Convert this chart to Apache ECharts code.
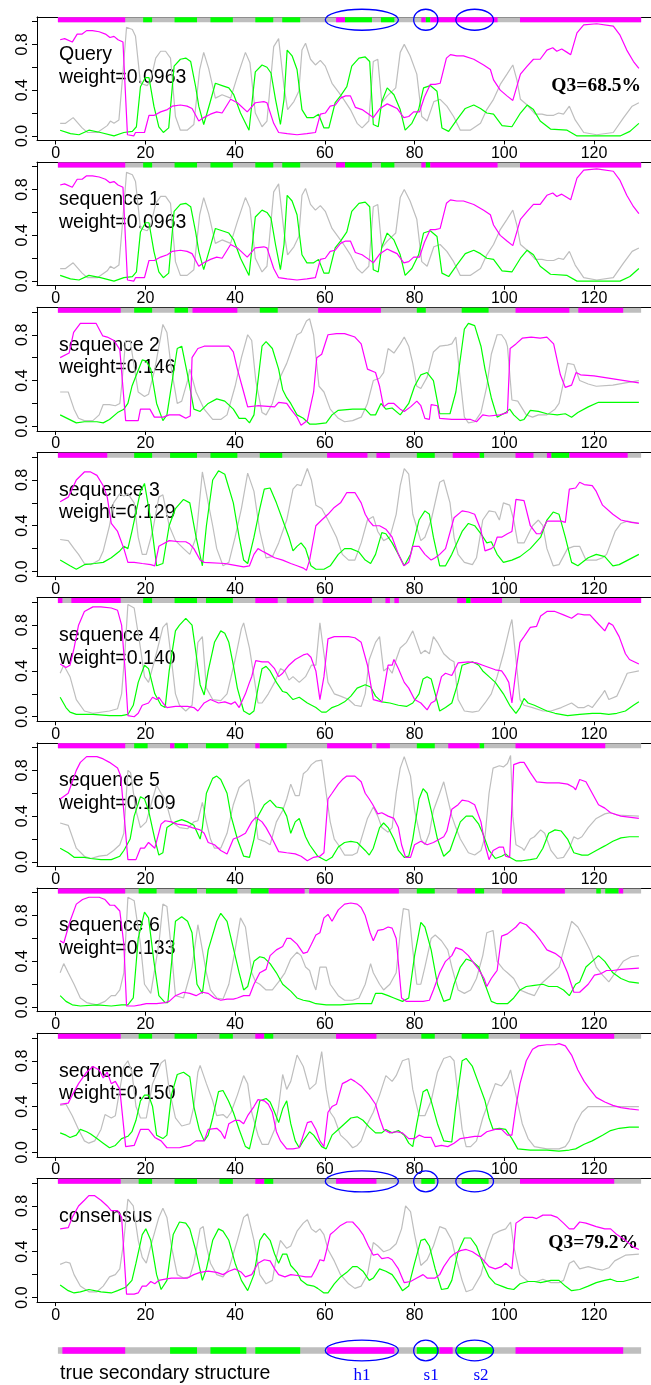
<!DOCTYPE html>
<html>
<head>
<meta charset="utf-8">
<script src="https://cdn.jsdelivr.net/npm/echarts@6.0.0/dist/echarts.min.js"></script>
<style>
html,body{margin:0;padding:0;background:#fff}
#chart{width:651px;height:1385px}
</style>
</head>
<body>
<div id="chart"></div>
<script>
// axis ticks
var xTicks = [0, 20, 40, 60, 80, 100, 120];
var yTicks = [0, 0.2, 0.4, 0.6, 0.8, 1.0];
var yLabels = [0, 0.4, 0.8];

// secondary structure segments: [type, first residue, last residue], coil elsewhere
var ssQuery = [['H',1,15],['E',20,21],['E',27,31],['E',35,39],['E',45,48],['E',51,54],['H',63,64],['E',65,70],['E',73,75],['H',82,82],['E',83,83],['H',84,98],['H',104,130]];
var ssSeq2 = [['H',1,14],['E',18,21],['E',27,29],['H',31,40],['E',46,49],['H',59,72],['E',81,82],['E',91,96],['H',103,114],['H',117,126]];
var ssSeq3 = [['H',1,11],['E',18,21],['E',26,31],['E',35,40],['E',46,50],['H',61,69],['H',72,74],['E',81,84],['H',89,94],['E',95,95],['H',103,106],['H',110,110],['E',111,114],['H',115,127]];
var ssSeq4 = [['H',1,1],['H',4,14],['E',20,21],['E',27,31],['E',34,39],['H',45,49],['H',52,57],['H',60,70],['H',74,74],['H',76,76],['H',90,91],['E',92,92],['H',93,99],['H',104,130]];
var ssSeq5 = [['H',1,15],['E',18,20],['H',26,26],['E',27,29],['E',34,38],['H',45,45],['E',46,51],['H',61,70],['H',72,74],['E',81,84],['H',88,94],['E',95,95],['H',103,122]];
var ssSeq6 = [['H',1,15],['E',19,22],['E',27,31],['E',34,40],['E',44,47],['H',48,55],['H',57,76],['E',81,84],['H',90,93],['E',94,95],['H',100,113],['E',121,121],['E',123,125],['H',126,126]];
var ssSeq7 = [['H',1,14],['E',19,21],['E',27,31],['E',37,39],['H',45,46],['E',47,48],['H',63,71],['E',82,84],['E',91,96],['H',104,124]];
var ssCons = [['H',1,14],['E',19,21],['E',27,31],['E',37,39],['H',45,46],['E',47,48],['H',63,71],['E',82,84],['E',91,96],['H',104,124]];
var ssTrue = [['H',2,15],['E',26,31],['E',35,42],['E',45,54],['H',61,75],['E',81,85],['H',86,88],['E',90,97],['H',103,126]];

// marked regions (residue span) and their names
var regions = [[60.1, 76.4], [79.8, 85.2], [89.2, 97.6]];
var regionNames = ['h1', 's1', 's2'];
var regionLabelX = [68.3, 83.7, 94.8];

// probabilities: helix (magenta), strand (green), coil (gray)
var helixQuery = [[1,0.84],[2,0.85],[3.7,0.82],[4.8,0.89],[5.9,0.89],[6.9,0.92],[8.2,0.92],[9.7,0.91],[11.1,0.89],[12.1,0.86],[13,0.87],[13.9,0.84],[15,0.82],[16,0.01],[17.4,0.0],[17.8,0.03],[19.8,0.03],[20.8,0.18],[22,0.18],[23.4,0.21],[24.9,0.23],[26,0.26],[27.8,0.27],[29.3,0.26],[30.4,0.24],[31.9,0.13],[33,0.16],[34.5,0.19],[35.9,0.21],[37.1,0.2],[39,0.32],[40.5,0.29],[42.7,0.21],[44.5,0.29],[46.4,0.3],[47.1,0.29],[48.6,0.11],[49.7,0.03],[51.6,0.02],[53.8,0.01],[56,0.02],[57.9,0.03],[59,0.19],[60.1,0.2],[61.2,0.26],[62.3,0.27],[63.5,0.33],[64.6,0.35],[65.7,0.35],[66.8,0.25],[68.3,0.23],[69.8,0.19],[70.8,0.16],[72.3,0.24],[73.9,0.28],[75,0.26],[76.1,0.24],[77.6,0.16],[78.7,0.17],[79.8,0.21],[81.1,0.21],[82.2,0.34],[83.5,0.45],[84.6,0.45],[85.7,0.46],[87.1,0.68],[88,0.71],[89.4,0.7],[90.9,0.7],[93.2,0.67],[95.4,0.62],[96.9,0.58],[97.6,0.49],[99.1,0.4],[100.6,0.35],[101.9,0.31],[103.6,0.54],[105.1,0.61],[106.5,0.67],[108,0.67],[109.5,0.75],[110.8,0.77],[111.7,0.74],[112.8,0.76],[114,0.73],[114.8,0.71],[116.2,0.9],[117.7,0.97],[120.6,0.98],[124.3,0.96],[125.8,0.88],[127.3,0.75],[128.8,0.65],[130,0.59]];
var strandQuery = [[1,0.05],[3.3,0.02],[5.2,0.01],[7.4,0.05],[10,0.03],[13,0.0],[15.2,0.03],[17.1,0.04],[18,0.08],[18.9,0.43],[20,0.51],[20.8,0.51],[21.9,0.26],[23,0.08],[24,0.03],[25.2,0.07],[26.4,0.61],[27.8,0.67],[29,0.68],[30.1,0.65],[31.2,0.43],[31.9,0.26],[33,0.1],[34.4,0.29],[35.6,0.46],[37.1,0.44],[38.6,0.42],[39.7,0.36],[41.2,0.2],[43.1,0.05],[44.5,0.56],[46,0.62],[47.1,0.6],[48,0.55],[49,0.32],[50.1,0.1],[50.9,0.32],[51.6,0.75],[52.7,0.7],[53.8,0.58],[54.9,0.23],[56,0.16],[57.5,0.16],[58.6,0.19],[59.8,0.07],[60.9,0.07],[62.3,0.29],[63.5,0.35],[64.9,0.43],[66,0.61],[67.6,0.68],[69,0.69],[70,0.65],[70.8,0.1],[71.9,0.08],[72.7,0.3],[73.9,0.42],[75.4,0.36],[76.8,0.23],[77.9,0.05],[79.4,0.11],[80.9,0.23],[82,0.42],[83.5,0.44],[85,0.39],[86.1,0.07],[87.6,0.04],[89.4,0.14],[91.3,0.24],[93.2,0.27],[94.7,0.24],[96.1,0.2],[97.6,0.19],[99.5,0.09],[101.7,0.08],[103.6,0.2],[105.1,0.27],[106.5,0.23],[108,0.13],[110.3,0.06],[114,0.05],[116.2,0.0],[122.1,0.0],[125.8,0.0],[128,0.04],[130,0.11]];
var coilQuery = [[1,0.11],[2.2,0.11],[3.9,0.16],[5.9,0.07],[7.1,0.03],[9.3,0.03],[11.5,0.09],[12.2,0.13],[13,0.11],[14.1,0.14],[14.8,0.46],[15.8,0.95],[17.1,0.93],[17.8,0.87],[18.9,0.46],[20.4,0.44],[21.2,0.49],[22.3,0.68],[23.4,0.74],[24.5,0.74],[25.6,0.68],[26.7,0.17],[27.8,0.05],[29.3,0.05],[30.8,0.1],[32.1,0.58],[33,0.73],[34.1,0.59],[35.6,0.33],[37.1,0.36],[39,0.33],[40.5,0.52],[42.3,0.73],[43.3,0.64],[44.5,0.2],[46,0.08],[47.1,0.13],[48.6,0.78],[49.7,0.85],[50.9,0.43],[51.7,0.23],[53.1,0.3],[54.2,0.39],[54.9,0.75],[55.7,0.81],[56.8,0.67],[57.9,0.62],[59,0.66],[60.1,0.61],[61.6,0.46],[63.1,0.38],[64.2,0.32],[65.7,0.23],[67.2,0.11],[68.3,0.07],[69.8,0.13],[70.8,0.65],[71.8,0.67],[72.7,0.29],[73.9,0.35],[75.8,0.42],[76.8,0.73],[77.7,0.8],[79,0.7],[80.5,0.54],[81.6,0.17],[82.8,0.13],[84.3,0.3],[85.7,0.32],[87.2,0.26],[88.7,0.17],[90.2,0.05],[92.4,0.05],[94.7,0.11],[96.1,0.23],[97.6,0.32],[99.1,0.45],[100.6,0.54],[101.9,0.62],[102.8,0.49],[103.6,0.32],[105.1,0.27],[106.9,0.19],[108.4,0.19],[109.5,0.18],[111,0.18],[112.1,0.2],[113.2,0.19],[114.5,0.26],[115.8,0.14],[117.7,0.03],[120.6,0.01],[124.3,0.03],[126.6,0.16],[128.5,0.26],[130,0.29]];

var helixSeq2 = [[1,0.6],[3,0.64],[4,0.82],[5.5,0.9],[9,0.9],[10.5,0.79],[11.5,0.78],[13,0.75],[14.3,0.67],[15.6,0.05],[18.4,0.05],[18.9,0.15],[21,0.15],[22,0.08],[24,0.08],[25.3,0.1],[27.6,0.1],[29,0.07],[30,0.09],[30.4,0.6],[31.7,0.68],[33.1,0.7],[38.6,0.7],[39.6,0.65],[40.5,0.5],[41.9,0.3],[42.8,0.17],[45,0.18],[48.8,0.17],[49.7,0.21],[51.5,0.2],[52.4,0.15],[53.8,0.08],[54.7,0.01],[56.1,0.05],[57.5,0.3],[58.2,0.6],[59.3,0.63],[60.7,0.8],[62.6,0.81],[64.4,0.81],[66.7,0.78],[68.1,0.72],[69.5,0.5],[71.3,0.47],[72.2,0.35],[73.1,0.17],[74.1,0.2],[75.4,0.2],[76.8,0.15],[77.7,0.13],[79.1,0.17],[80.5,0.22],[81.4,0.18],[82.3,0.07],[83.3,0.06],[83.7,0.19],[85.1,0.18],[85.6,0.07],[88.3,0.06],[92.5,0.06],[93.8,0.04],[95.2,0.1],[96.6,0.09],[99,0.1],[100.7,0.12],[101.3,0.68],[102.6,0.72],[104,0.77],[106,0.78],[108,0.77],[109.5,0.78],[111,0.72],[112.5,0.45],[113.6,0.34],[115,0.36],[116,0.47],[117,0.45],[120,0.44],[125,0.41],[130,0.38]];
var strandSeq2 = [[1,0.1],[4.6,0.03],[6.4,0.04],[9.2,0.04],[10.6,0.03],[12,0.06],[13.8,0.12],[15.2,0.15],[16.1,0.2],[17,0.35],[19.3,0.58],[20.2,0.57],[21.2,0.5],[22.5,0.2],[23.9,0.05],[24.8,0.1],[27.1,0.68],[28.1,0.7],[29.4,0.45],[30.8,0.15],[32.2,0.13],[34,0.2],[35.9,0.24],[37.7,0.22],[39.6,0.15],[40.9,0.07],[42.3,0.07],[43.2,0.03],[44.2,0.1],[46,0.7],[46.9,0.74],[48.3,0.68],[49.7,0.5],[50.6,0.32],[51.5,0.25],[52.4,0.2],[53.8,0.1],[55.2,0.07],[56.6,0.02],[58,0.02],[60.3,0.03],[61.6,0.1],[63,0.14],[66.2,0.15],[69,0.15],[70.2,0.1],[71.3,0.1],[72.5,0.2],[73.6,0.15],[75,0.16],[76.8,0.1],[78.7,0.2],[80,0.35],[81.4,0.45],[82.8,0.47],[84.2,0.4],[85.6,0.11],[87.9,0.11],[89.2,0.3],[91.1,0.85],[92,0.9],[93.4,0.88],[94.8,0.7],[95.7,0.5],[97.1,0.25],[98.4,0.08],[100.3,0.12],[101.2,0.15],[102.1,0.1],[103.5,0.05],[104.4,0.06],[105.8,0.14],[107.6,0.13],[109.5,0.11],[111.8,0.1],[113.6,0.11],[115,0.08],[116.4,0.12],[118.7,0.17],[121,0.21],[130,0.21]];
var coilSeq2 = [[1,0.3],[2.8,0.3],[4.1,0.15],[5.1,0.07],[6.4,0.05],[8.3,0.05],[9.7,0.1],[10.6,0.19],[12,0.19],[13.3,0.18],[14.3,0.2],[14.7,0.35],[15.6,0.75],[16.6,0.75],[18.4,0.3],[19.8,0.26],[20.7,0.28],[22.1,0.5],[23.9,0.89],[24.8,0.82],[25.8,0.5],[27.1,0.2],[28.1,0.22],[29.4,0.4],[29.9,0.5],[31.3,0.3],[33.1,0.15],[35,0.06],[36.8,0.06],[38.2,0.1],[40,0.35],[41.4,0.6],[42.8,0.8],[43.7,0.75],[44.6,0.4],[46,0.12],[46.9,0.1],[48.3,0.2],[49.7,0.4],[51.5,0.55],[52.4,0.65],[53.8,0.8],[54.7,0.82],[55.9,0.92],[56.6,0.94],[57.5,0.8],[58.7,0.35],[59.8,0.3],[61.2,0.15],[63,0.07],[64.4,0.04],[66.2,0.05],[68.1,0.08],[69.5,0.2],[70.8,0.4],[72.2,0.42],[73.1,0.47],[74.1,0.68],[75.4,0.64],[76.8,0.72],[77.7,0.78],[78.7,0.7],[79.6,0.55],[80.5,0.35],[81.4,0.33],[82.8,0.43],[84.2,0.65],[85.6,0.7],[87.4,0.71],[88.3,0.72],[89.2,0.78],[90.2,0.4],[91.1,0.08],[92,0.03],[93.4,0.04],[94.8,0.12],[96.1,0.35],[97.1,0.63],[98.4,0.8],[99.4,0.8],[100.3,0.75],[100.7,0.7],[101.7,0.23],[103,0.22],[104.9,0.1],[106.3,0.08],[107.6,0.1],[109.5,0.1],[111.3,0.15],[112.2,0.2],[114.1,0.55],[115.5,0.54],[116.8,0.4],[118.7,0.37],[120.5,0.35],[124.2,0.36],[127,0.38],[130,0.4]];

var helixSeq3 = [[1,0.61],[2.8,0.65],[4.6,0.8],[6.4,0.87],[7.8,0.87],[9.2,0.84],[10.6,0.75],[11.5,0.65],[12.4,0.42],[13.8,0.35],[15.2,0.2],[16.1,0.08],[17.5,0.08],[19.3,0.07],[21.2,0.06],[22.1,0.05],[23,0.22],[23.9,0.24],[25.3,0.27],[27.6,0.26],[29,0.26],[29.9,0.24],[30.8,0.2],[32.2,0.1],[33.1,0.08],[37.7,0.07],[39.1,0.06],[41.9,0.04],[43.2,0.05],[44.2,0.15],[45.1,0.2],[46,0.18],[47.4,0.15],[48.8,0.12],[50.6,0.1],[52.4,0.07],[53.8,0.05],[55.2,0.03],[55.9,0.01],[56.6,0.1],[58,0.4],[59.3,0.45],[60.7,0.5],[62.1,0.56],[63.5,0.6],[64.9,0.69],[66.7,0.69],[68.1,0.6],[69,0.5],[69.9,0.44],[70.8,0.4],[72.2,0.4],[73.6,0.37],[75,0.3],[76.4,0.15],[77.6,0.05],[78.7,0.08],[79.6,0.22],[81,0.22],[82.3,0.15],[83.7,0.1],[84.6,0.12],[85.6,0.15],[86.9,0.2],[88.8,0.47],[90.6,0.53],[92,0.52],[93.4,0.5],[94.8,0.36],[95.7,0.18],[97.1,0.2],[97.7,0.22],[98.4,0.3],[99.4,0.3],[100.7,0.33],[101.7,0.35],[102.6,0.63],[104.4,0.62],[105.8,0.4],[107.2,0.33],[108.1,0.33],[109.5,0.44],[111.3,0.44],[112.7,0.44],[113.6,0.43],[114.5,0.72],[115.9,0.73],[116.8,0.78],[117.8,0.76],[119.6,0.75],[120.5,0.7],[121.9,0.58],[124.2,0.5],[126,0.45],[128.3,0.43],[130,0.42]];
var strandSeq3 = [[1,0.1],[3.2,0.05],[4.6,0.02],[6.4,0.06],[8.7,0.07],[10.6,0.08],[12.4,0.12],[14.3,0.18],[15.2,0.22],[16.1,0.2],[17,0.35],[18.9,0.7],[19.8,0.77],[20.2,0.78],[21.2,0.45],[22.5,0.05],[23.9,0.07],[25.3,0.4],[26.7,0.55],[28.5,0.63],[29.9,0.6],[31.3,0.3],[32.7,0.05],[33.6,0.4],[35,0.8],[36.3,0.88],[37.7,0.85],[39.6,0.6],[40.9,0.3],[41.9,0.1],[42.8,0.07],[44.2,0.3],[45.5,0.55],[46.5,0.72],[47.8,0.73],[49.2,0.6],[50.6,0.45],[52,0.3],[52.9,0.18],[53.8,0.22],[54.7,0.25],[55.7,0.2],[56.9,0.05],[58,0.02],[59.8,0.02],[61.2,0.05],[63,0.15],[64.4,0.2],[65.8,0.2],[67.6,0.17],[69,0.1],[70.2,0.07],[71.3,0.15],[72.7,0.34],[73.6,0.33],[75,0.25],[76.4,0.15],[77.7,0.05],[79.1,0.15],[81,0.45],[82.3,0.53],[83.3,0.5],[84.2,0.3],[85.6,0.05],[86.9,0.05],[88.3,0.15],[90.6,0.35],[92,0.42],[93.4,0.4],[94.8,0.33],[96.1,0.25],[97.1,0.26],[98.4,0.15],[99.8,0.08],[101.7,0.1],[103.5,0.13],[105.8,0.2],[108.1,0.3],[109.5,0.45],[110.9,0.52],[112.2,0.5],[113.6,0.3],[115,0.08],[116.4,0.05],[118.7,0.12],[120.5,0.15],[122.4,0.13],[124.2,0.05],[125.6,0.06],[130,0.15]];
var coilSeq3 = [[1,0.28],[2.8,0.27],[4.1,0.2],[5.1,0.15],[6.4,0.07],[7.8,0.06],[9.7,0.1],[10.6,0.18],[12,0.4],[12.9,0.6],[14.3,0.68],[15.2,0.66],[16.1,0.68],[17.5,0.6],[18.4,0.3],[19.3,0.15],[20.2,0.15],[21.6,0.35],[23,0.65],[23.9,0.67],[25.3,0.4],[26.7,0.27],[28.5,0.2],[29.9,0.15],[31.3,0.3],[32.7,0.87],[34,0.6],[35,0.4],[35.9,0.2],[37.3,0.05],[38.6,0.08],[40,0.3],[41.4,0.55],[42.8,0.86],[44.2,0.7],[45.5,0.35],[46.9,0.12],[48.3,0.13],[49.7,0.25],[51.5,0.45],[52.9,0.72],[53.8,0.76],[54.7,0.75],[56.1,0.9],[57,0.8],[58,0.58],[59.3,0.55],[60.7,0.45],[62.6,0.3],[63.9,0.15],[65.3,0.1],[66.7,0.1],[68.1,0.25],[69.5,0.45],[70.8,0.48],[71.8,0.35],[73.1,0.27],[74.5,0.3],[75.9,0.5],[76.8,0.75],[77.7,0.9],[78.7,0.85],[79.6,0.5],[81.4,0.27],[82.3,0.3],[83.7,0.45],[85.6,0.78],[86.5,0.8],[87.9,0.6],[88.8,0.3],[89.7,0.15],[91.1,0.08],[92.9,0.06],[93.8,0.12],[95.2,0.45],[96.6,0.53],[98,0.52],[98.9,0.45],[99.8,0.6],[101.2,0.58],[102.1,0.45],[103,0.25],[104.4,0.25],[106.3,0.4],[107.6,0.45],[108.6,0.4],[109.5,0.2],[110.9,0.05],[112.2,0.06],[114.1,0.2],[115.5,0.22],[116.8,0.22],[118.2,0.1],[120.5,0.1],[121.9,0.12],[122.8,0.15],[124.7,0.35],[126,0.42],[127.4,0.44],[130,0.42]];

var helixSeq4 = [[1,0.46],[2.3,0.43],[3.2,0.45],[4.1,0.6],[5.1,0.8],[6.4,0.92],[8.3,0.96],[10.1,0.96],[12.4,0.95],[13.8,0.93],[14.7,0.8],[15.5,0.4],[16.1,0.01],[17.5,0.0],[18.4,0.03],[19.3,0.1],[20.7,0.12],[21.6,0.17],[22.5,0.15],[23,0.17],[23.9,0.12],[24.8,0.08],[26.7,0.09],[29.4,0.09],[30.8,0.08],[31.7,0.05],[33.1,0.12],[34.5,0.15],[36.3,0.12],[37.7,0.13],[39.1,0.11],[40,0.13],[40.9,0.08],[42.3,0.2],[43.2,0.3],[43.7,0.35],[44.6,0.49],[46,0.48],[47.4,0.48],[48.8,0.42],[49.7,0.35],[50.6,0.38],[52,0.45],[53.4,0.5],[55.2,0.54],[56.1,0.55],[56.9,0.52],[58,0.4],[58.9,0.15],[59.8,0.35],[60.7,0.68],[62.1,0.7],[65.3,0.7],[66.7,0.69],[68.1,0.65],[69.5,0.45],[70.8,0.15],[72.7,0.13],[74.1,0.45],[75,0.45],[75.4,0.5],[76.4,0.42],[77.7,0.3],[78.7,0.25],[80,0.15],[81.4,0.12],[82.8,0.06],[83.7,0.12],[84.6,0.14],[86,0.35],[86.9,0.38],[88.3,0.36],[89.7,0.47],[92,0.48],[93.8,0.47],[95.2,0.45],[96.6,0.43],[98,0.41],[99.4,0.4],[100.3,0.35],[101,0.3],[101.7,0.12],[102.6,0.4],[103.5,0.65],[104.4,0.7],[105.8,0.78],[107.2,0.79],[108.1,0.88],[109.5,0.92],[111.3,0.92],[113.2,0.89],[115,0.86],[116.4,0.9],[117.8,0.89],[119.1,0.89],[120.5,0.83],[122.4,0.75],[123.3,0.82],[124.2,0.8],[125.6,0.7],[127,0.55],[127.9,0.5],[130,0.46]];
var strandSeq4 = [[1,0.17],[2.3,0.08],[3.2,0.04],[4.6,0.02],[8.3,0.02],[12,0.01],[14.7,0.01],[16.1,0.02],[17.3,0.1],[18.4,0.3],[19.8,0.45],[20.7,0.42],[22.1,0.2],[23.5,0.1],[24.4,0.08],[25.3,0.4],[26.7,0.75],[27.6,0.8],[29,0.86],[30.4,0.8],[31.3,0.55],[32.2,0.28],[33.1,0.19],[34,0.4],[35.4,0.65],[36.8,0.75],[37.7,0.73],[38.6,0.65],[39.6,0.45],[40.5,0.25],[41.9,0.05],[43.2,0.02],[44.2,0.05],[45.1,0.25],[46,0.42],[46.9,0.44],[47.8,0.4],[49.2,0.3],[50.6,0.22],[51.5,0.21],[52.9,0.15],[54.3,0.17],[56.1,0.12],[58,0.08],[59.3,0.04],[60.3,0.04],[61.6,0.08],[63,0.1],[64.4,0.13],[65.8,0.18],[67.2,0.25],[69,0.28],[70.2,0.26],[71.3,0.18],[72.7,0.13],[74.5,0.12],[76.4,0.1],[78.2,0.09],[79.6,0.12],[81,0.2],[81.9,0.33],[82.8,0.35],[83.7,0.33],[84.6,0.2],[85.6,0.05],[86.9,0.08],[88.3,0.12],[89.7,0.3],[90.6,0.45],[92.9,0.48],[94.3,0.45],[95.2,0.4],[96.6,0.35],[98,0.3],[99.8,0.2],[101.2,0.1],[102.6,0.03],[103.5,0.08],[104.4,0.16],[105.3,0.12],[106.7,0.1],[109.5,0.05],[111.3,0.03],[114.1,0.01],[116.8,0.02],[119.6,0.03],[121.4,0.03],[123.3,0.02],[125.1,0.03],[127,0.05],[128.8,0.1],[130,0.13]];
var coilSeq4 = [[1,0.38],[1.8,0.45],[3.2,0.35],[4.6,0.15],[6.4,0.05],[8.3,0.03],[12,0.05],[13.8,0.07],[14.7,0.2],[15.5,0.6],[16.1,0.98],[17.5,0.95],[18.9,0.6],[19.8,0.35],[20.7,0.3],[22.1,0.5],[23.9,0.78],[24.8,0.82],[25.8,0.5],[26.7,0.2],[27.6,0.1],[29,0.05],[30.4,0.1],[31.7,0.65],[32.7,0.7],[33.6,0.25],[35,0.15],[36.8,0.14],[38.2,0.2],[40,0.5],[41.4,0.77],[41.9,0.82],[43.2,0.6],[44.2,0.35],[45.1,0.12],[46,0.12],[47.4,0.2],[48.8,0.3],[50.1,0.42],[51.1,0.4],[52,0.32],[52.9,0.35],[54.3,0.3],[55.7,0.35],[57,0.45],[58,0.45],[58.9,0.82],[59.8,0.55],[60.7,0.3],[62.1,0.2],[63.5,0.18],[65.3,0.15],[66.7,0.1],[68.1,0.09],[69,0.2],[69.9,0.5],[71.3,0.65],[72.2,0.7],[73.1,0.4],[74.1,0.43],[75,0.38],[75.9,0.5],[76.8,0.6],[78.2,0.65],[79.6,0.75],[80.5,0.65],[81.4,0.55],[82.3,0.58],[83.3,0.55],[84.2,0.7],[85.1,0.65],[86.5,0.55],[87.9,0.5],[88.8,0.48],[89.7,0.15],[91.1,0.05],[92.9,0.04],[94.3,0.05],[95.7,0.12],[97.1,0.2],[98.4,0.35],[99.8,0.55],[101.2,0.78],[101.7,0.85],[102.6,0.5],[103.5,0.15],[104.4,0.1],[106.3,0.08],[108.6,0.05],[110.4,0.05],[112.7,0.08],[115,0.12],[116.4,0.08],[117.8,0.08],[118.7,0.1],[119.6,0.08],[121.9,0.2],[122.4,0.23],[123.3,0.15],[125.1,0.18],[126.5,0.3],[127.4,0.38],[130,0.4]];

var helixSeq5 = [[1,0.55],[2.8,0.6],[4.6,0.8],[5.5,0.87],[6.9,0.92],[9.2,0.92],[10.6,0.9],[12,0.87],[13.8,0.82],[14.5,0.75],[15.5,0.3],[16.1,0.02],[17.9,0.02],[18.9,0.12],[19.8,0.12],[20.7,0.17],[22.1,0.12],[23.5,0.33],[24.4,0.36],[25.8,0.35],[27.1,0.33],[29,0.32],[30.4,0.3],[32.2,0.28],[33.1,0.25],[34,0.17],[35.4,0.15],[36.8,0.1],[38.2,0.07],[39.6,0.2],[40.9,0.22],[42.3,0.25],[43.7,0.35],[44.6,0.39],[46,0.35],[46.9,0.3],[48.3,0.2],[49.7,0.09],[51.5,0.08],[53.4,0.07],[54.7,0.05],[56.1,0.01],[57.5,0.04],[58.9,0.05],[59.8,0.08],[60.7,0.55],[61.6,0.6],[63,0.68],[63.9,0.72],[64.9,0.75],[66.7,0.75],[68.1,0.7],[69,0.6],[69.9,0.55],[70.7,0.5],[71.8,0.42],[72.7,0.43],[74.1,0.4],[75.4,0.38],[76.4,0.3],[77.1,0.15],[78,0.04],[79.1,0.04],[80,0.15],[81.4,0.18],[82.8,0.15],[84.2,0.17],[85.6,0.2],[86.5,0.22],[87.2,0.27],[88.3,0.46],[89.7,0.5],[90.6,0.54],[92,0.53],[93.4,0.5],[94.8,0.35],[95.7,0.15],[96.6,0.02],[97.5,0.1],[98.9,0.13],[99.8,0.13],[100.3,0.05],[101.2,0.04],[102.1,0.85],[103.5,0.87],[104.4,0.87],[105.8,0.78],[107.2,0.7],[109.5,0.69],[112.2,0.69],[114.1,0.68],[115.5,0.65],[115.9,0.63],[116.8,0.72],[118.2,0.7],[119.6,0.6],[121,0.5],[122.4,0.47],[123.7,0.43],[126,0.4],[130,0.38]];
var strandSeq5 = [[1,0.12],[2.8,0.08],[4.1,0.04],[6.4,0.04],[7.8,0.03],[10.1,0.02],[12.4,0.02],[14.3,0.05],[15.2,0.1],[16.6,0.2],[17.5,0.4],[18.9,0.57],[19.8,0.55],[20.7,0.45],[22.1,0.2],[23,0.06],[23.9,0.08],[24.8,0.3],[26.7,0.35],[28.1,0.37],[29.4,0.35],[30.8,0.32],[32.2,0.2],[32.7,0.3],[33.6,0.6],[35,0.73],[35.9,0.75],[36.8,0.72],[38.2,0.6],[39.1,0.4],[40.5,0.2],[41.9,0.05],[43.2,0.04],[44.2,0.2],[45.1,0.4],[46.5,0.5],[47.8,0.54],[49.2,0.48],[50.6,0.47],[51.5,0.4],[52.4,0.25],[53.4,0.35],[54.3,0.38],[55.7,0.22],[56.6,0.15],[58.4,0.05],[60.3,0.01],[61.6,0.04],[63,0.13],[64.4,0.17],[65.8,0.18],[67.2,0.17],[69,0.1],[69.9,0.06],[70.8,0.12],[72.2,0.3],[73.1,0.34],[74.1,0.3],[75.4,0.2],[76.4,0.1],[77.7,0.04],[78.7,0.05],[79.6,0.2],[81,0.55],[81.9,0.64],[82.8,0.6],[83.7,0.45],[85.1,0.2],[86.5,0.05],[87.9,0.1],[88.8,0.2],[90.2,0.35],[91.5,0.4],[92.9,0.4],[94.3,0.33],[95.2,0.25],[96.6,0.1],[98,0.03],[99.4,0.05],[100.3,0.07],[101.2,0.04],[102.6,0.01],[104,0.01],[105.8,0.02],[107.2,0.03],[108.6,0.12],[109.9,0.25],[111.3,0.28],[112.7,0.27],[114.1,0.2],[115.5,0.08],[117.3,0.06],[118.7,0.06],[120.5,0.1],[122.4,0.14],[124.2,0.18],[126,0.21],[127.9,0.22],[130,0.22]];
var coilSeq5 = [[1,0.34],[2.8,0.32],[4.6,0.12],[6.4,0.05],[7.8,0.03],[9.7,0.05],[11.5,0.06],[12.9,0.1],[14.3,0.15],[15.2,0.25],[16.1,0.8],[16.7,0.78],[17.9,0.45],[18.9,0.3],[20.2,0.35],[21.6,0.55],[22.5,0.67],[23.5,0.6],[24.4,0.55],[25.8,0.35],[27.6,0.3],[29.4,0.29],[30.8,0.35],[31.7,0.36],[32.7,0.52],[33.6,0.35],[34.5,0.2],[35.4,0.12],[36.8,0.12],[38.2,0.25],[39.6,0.5],[40.9,0.65],[42.3,0.7],[43.1,0.72],[44.2,0.5],[45.1,0.2],[46.5,0.18],[47.8,0.15],[49.2,0.35],[50.6,0.45],[51.5,0.55],[52.4,0.68],[53.4,0.58],[54.3,0.58],[55.2,0.77],[56.1,0.8],[57,0.85],[58,0.88],[59.3,0.89],[60.3,0.6],[61.2,0.35],[62.1,0.2],[63,0.15],[64.4,0.06],[66.2,0.06],[67.2,0.08],[68.5,0.25],[69.5,0.38],[70.4,0.45],[70.8,0.48],[71.8,0.4],[72.7,0.3],[74.1,0.26],[75,0.3],[75.9,0.6],[76.8,0.82],[77.7,0.92],[79.1,0.75],[80,0.45],[81.4,0.2],[82.3,0.15],[83.3,0.25],[84.2,0.45],[85.6,0.6],[86.5,0.7],[87.4,0.55],[88.3,0.4],[89.2,0.3],[90.2,0.2],[92,0.08],[93.4,0.06],[94.8,0.1],[95.7,0.22],[96.6,0.6],[97.5,0.82],[98.9,0.84],[99.8,0.83],[100.7,0.86],[101.4,0.93],[101.9,0.4],[102.6,0.15],[104,0.12],[104.4,0.1],[105.8,0.2],[106.7,0.22],[108.1,0.28],[109,0.25],[110.4,0.1],[111.8,0.03],[113.2,0.04],[114.5,0.12],[115.5,0.22],[116.4,0.2],[117.3,0.22],[118.7,0.3],[120.5,0.38],[122.4,0.42],[123.7,0.43],[125.1,0.41],[130,0.4]];

var helixSeq6 = [[1,0.58],[1.8,0.56],[3.2,0.75],[4.6,0.9],[6,0.94],[7.4,0.96],[9.7,0.96],[11,0.94],[12.1,0.89],[13.1,0.89],[14.3,0.84],[15.2,0.55],[15.8,0.01],[17.5,0.01],[18.9,0.02],[20.2,0.03],[22.5,0.03],[24.4,0.04],[25.3,0.05],[26.7,0.1],[28.5,0.13],[29.9,0.12],[31.3,0.1],[32.7,0.13],[34,0.12],[35.4,0.08],[36.8,0.06],[38.2,0.07],[39.6,0.07],[40.5,0.08],[41.9,0.1],[43.2,0.1],[44.2,0.2],[45.5,0.3],[46.9,0.33],[47.8,0.45],[49.2,0.5],[50.6,0.53],[51.5,0.6],[52.4,0.6],[53.8,0.55],[55.2,0.47],[56.1,0.48],[57,0.55],[58,0.63],[58.9,0.65],[59.8,0.78],[60.7,0.81],[61.6,0.75],[63,0.85],[64.4,0.9],[65.8,0.91],[67.2,0.9],[68.1,0.87],[69,0.8],[70.1,0.65],[70.8,0.58],[71.8,0.67],[73.1,0.68],[74.1,0.7],[75,0.69],[75.9,0.6],[77.1,0.08],[78.2,0.05],[80,0.05],[81.9,0.05],[83.3,0.06],[84.2,0.15],[85.6,0.3],[86.9,0.4],[88.3,0.45],[89.2,0.52],[90.6,0.5],[92,0.45],[92.9,0.4],[94.3,0.33],[95.5,0.25],[96.1,0.18],[97.1,0.25],[98,0.3],[98.4,0.32],[99.4,0.62],[100.7,0.64],[102.6,0.7],[103.5,0.74],[104.9,0.72],[106.7,0.65],[108.1,0.58],[109.5,0.5],[111.3,0.47],[112.7,0.43],[114.1,0.3],[115.5,0.13],[116.8,0.13],[118.7,0.2],[120.1,0.28],[121.4,0.29],[122.8,0.32],[124.2,0.32],[126,0.33],[130,0.34]];
var strandSeq6 = [[1,0.1],[2.3,0.05],[3.7,0.02],[5.5,0.01],[9.2,0.02],[12.4,0.01],[14.7,0.02],[16.1,0.02],[17.3,0.08],[18.4,0.6],[19.8,0.83],[20.7,0.78],[21.9,0.4],[23,0.1],[24.4,0.04],[25,0.04],[26.7,0.75],[28.1,0.79],[29.4,0.75],[30.4,0.65],[31.5,0.2],[32.7,0.12],[34,0.5],[35.9,0.75],[36.8,0.82],[38.2,0.75],[39.1,0.6],[40.9,0.3],[41.9,0.15],[42.8,0.18],[44.2,0.4],[45.5,0.44],[46.5,0.43],[47.8,0.38],[49.2,0.3],[50.6,0.2],[52.4,0.14],[53.8,0.08],[55.2,0.06],[56.6,0.05],[58,0.03],[60.3,0.02],[63.5,0.02],[67.2,0.03],[70.4,0.03],[71.3,0.12],[72.7,0.12],[74.1,0.1],[75.4,0.08],[77.3,0.05],[78.7,0.08],[80,0.45],[81.4,0.74],[82.3,0.7],[83.7,0.5],[85.1,0.2],[86.5,0.05],[87.9,0.07],[88.8,0.2],[90.2,0.35],[91.5,0.42],[92.9,0.4],[94.3,0.35],[95.7,0.2],[97.1,0.05],[98.4,0.03],[100.7,0.03],[102.1,0.08],[103.5,0.15],[104.9,0.18],[106.7,0.19],[108.6,0.2],[109.9,0.18],[111.8,0.18],[113.2,0.15],[114.5,0.1],[115.9,0.2],[116.8,0.22],[118.2,0.35],[119.6,0.4],[121,0.45],[122.4,0.4],[124.2,0.3],[126,0.25],[127.9,0.22],[130,0.21]];
var coilSeq6 = [[1,0.3],[1.8,0.38],[2.8,0.3],[4.1,0.2],[5.5,0.08],[6.9,0.04],[9.2,0.02],[11,0.05],[12.4,0.1],[13.3,0.1],[14.3,0.15],[15.2,0.3],[16.1,0.96],[17.5,0.93],[18.9,0.55],[19.8,0.2],[21.2,0.12],[23,0.55],[23.9,0.9],[24.8,0.88],[25.8,0.5],[26.7,0.1],[28.5,0.08],[30.4,0.35],[31.7,0.72],[32.7,0.5],[33.6,0.3],[34.5,0.15],[35.9,0.08],[37.3,0.07],[38.6,0.2],[40,0.5],[41.2,0.78],[42.3,0.7],[43.7,0.3],[44.6,0.22],[45.5,0.2],[46.9,0.15],[48.3,0.15],[49.7,0.22],[51.1,0.3],[52.4,0.42],[53.8,0.48],[54.7,0.45],[55.7,0.35],[56.6,0.32],[57.5,0.2],[58,0.15],[58.9,0.35],[60.3,0.35],[61.2,0.2],[63,0.1],[64.4,0.06],[66.2,0.06],[67.6,0.08],[69,0.2],[70.2,0.38],[70.8,0.3],[72.2,0.2],[73.1,0.15],[74.5,0.2],[75.9,0.3],[76.8,0.65],[77.5,0.86],[78.7,0.85],[79.6,0.5],[80.5,0.2],[81.4,0.2],[82.3,0.35],[83.7,0.6],[84.6,0.63],[86,0.58],[87.4,0.5],[88.3,0.35],[89.7,0.15],[91.1,0.12],[92.5,0.15],[93.8,0.25],[95.2,0.45],[96.1,0.65],[97.5,0.67],[98.4,0.4],[99.8,0.33],[100.7,0.3],[102.1,0.25],[103.5,0.15],[105.3,0.12],[106.7,0.1],[108.1,0.2],[109.5,0.25],[110.9,0.3],[112.2,0.35],[113.6,0.55],[115,0.75],[116.4,0.7],[117.8,0.6],[119.1,0.5],[120.5,0.35],[121.9,0.28],[123.3,0.22],[124.7,0.3],[126.5,0.4],[128.3,0.44],[130,0.45]];

var helixSeq7 = [[1,0.42],[2.8,0.43],[3.7,0.5],[5.1,0.6],[6,0.65],[6.9,0.7],[8.3,0.75],[9.7,0.72],[10.6,0.65],[11.5,0.7],[12.4,0.6],[13.3,0.62],[14.3,0.55],[15.6,0.05],[17.5,0.06],[18.9,0.2],[20.7,0.2],[22.1,0.13],[23.5,0.1],[24.8,0.04],[27.6,0.04],[28.5,0.05],[29.9,0.06],[31.3,0.1],[33.1,0.1],[34,0.2],[35.9,0.21],[36.8,0.18],[37.7,0.12],[38.6,0.25],[40,0.28],[40.9,0.28],[41.9,0.25],[42.8,0.32],[44.2,0.4],[45.1,0.46],[46.5,0.45],[47.4,0.42],[48.3,0.35],[49.2,0.18],[50.1,0.1],[51.5,0.03],[52.9,0.03],[54.3,0.04],[55.2,0.15],[56.1,0.26],[57,0.27],[58,0.2],[58.9,0.1],[59.8,0.05],[60.7,0.35],[61.6,0.4],[62.6,0.42],[63.9,0.6],[64.9,0.62],[65.8,0.64],[66.7,0.62],[68.1,0.58],[69.9,0.5],[71.3,0.42],[72.2,0.3],[73.1,0.2],[74.5,0.17],[75.9,0.18],[77.3,0.17],[78.7,0.12],[80,0.12],[81,0.15],[82.3,0.13],[83.7,0.13],[84.6,0.05],[86,0.06],[87.4,0.05],[88.8,0.08],[90.2,0.12],[92,0.13],[93.4,0.14],[94.8,0.14],[96.1,0.18],[98,0.2],[99.4,0.2],[100.7,0.15],[101.7,0.15],[102.6,0.4],[103.5,0.6],[104.9,0.8],[106.3,0.9],[107.6,0.93],[109.5,0.94],[111.3,0.94],[112.2,0.95],[113.6,0.93],[115,0.85],[116.4,0.72],[117.8,0.62],[119.1,0.55],[120.5,0.48],[122.4,0.44],[124.2,0.41],[126,0.39],[127.9,0.38],[130,0.37]];
var strandSeq7 = [[1,0.17],[2.3,0.15],[3.2,0.13],[4.6,0.15],[5.5,0.2],[6.9,0.18],[7.8,0.16],[9.2,0.12],[10.6,0.08],[12,0.04],[13.3,0.06],[14.7,0.12],[16.1,0.14],[17,0.18],[17.9,0.28],[18.9,0.45],[19.8,0.5],[20.7,0.5],[21.6,0.4],[22.5,0.15],[23.9,0.12],[24.8,0.15],[25.8,0.5],[27.1,0.68],[28.5,0.7],[29.9,0.66],[30.8,0.4],[32,0.2],[33.1,0.1],[34,0.15],[35,0.3],[36.3,0.53],[37.3,0.54],[38.5,0.45],[39.6,0.35],[40.9,0.2],[42.3,0.05],[43.2,0.03],[44.2,0.2],[45.5,0.45],[46.9,0.47],[47.8,0.44],[48.8,0.35],[49.7,0.26],[50.6,0.38],[51.5,0.45],[52.4,0.25],[53.4,0.1],[54.3,0.04],[55.2,0.1],[56.6,0.18],[57.5,0.15],[58.4,0.1],[59.3,0.05],[60.3,0.03],[61.6,0.15],[63,0.2],[64.4,0.25],[65.8,0.3],[67.2,0.31],[68.5,0.28],[69.9,0.22],[71.3,0.17],[72.7,0.17],[73.6,0.2],[75,0.17],[76.4,0.19],[77.7,0.15],[78.7,0.08],[79.6,0.05],[80.5,0.25],[81.9,0.53],[82.8,0.55],[83.7,0.45],[85.1,0.25],[86.5,0.1],[88.3,0.09],[89.2,0.4],[90.6,0.8],[91.5,0.82],[92.9,0.75],[94.3,0.6],[95.7,0.45],[96.6,0.3],[97.5,0.2],[98.9,0.21],[100.3,0.2],[101.7,0.12],[103,0.03],[105.8,0.02],[109.5,0.02],[112.2,0.01],[114.5,0.02],[115.9,0.03],[117.8,0.07],[119.6,0.1],[121.9,0.15],[123.7,0.19],[125.6,0.21],[127.9,0.22],[130,0.22]];
var coilSeq7 = [[1,0.41],[2.3,0.42],[3.7,0.32],[5.1,0.2],[6.4,0.1],[7.4,0.08],[8.7,0.1],[10.1,0.2],[11,0.33],[12.4,0.3],[13.3,0.32],[14.3,0.55],[15.2,0.75],[16.1,0.8],[17,0.7],[17.9,0.4],[18.9,0.3],[20.2,0.3],[21.6,0.6],[23.5,0.78],[24.4,0.81],[25.3,0.55],[26.7,0.3],[28.1,0.23],[29.9,0.25],[30.8,0.4],[31.7,0.7],[32.2,0.76],[33.6,0.6],[35,0.45],[35.9,0.32],[37.3,0.33],[38.2,0.3],[39.1,0.35],[40.5,0.5],[41.9,0.67],[42.8,0.6],[43.7,0.35],[45.1,0.15],[46,0.07],[47.4,0.07],[48.8,0.2],[49.7,0.4],[50.6,0.68],[51.5,0.55],[52.4,0.62],[53.8,0.85],[55.2,0.75],[56.6,0.55],[58,0.6],[59.3,0.88],[60.3,0.55],[61.2,0.35],[62.1,0.3],[63.5,0.15],[64.9,0.1],[66.2,0.04],[67.2,0.06],[68.1,0.1],[69.5,0.25],[70.8,0.35],[72.2,0.5],[73.6,0.67],[75,0.62],[75.9,0.67],[77.3,0.8],[78.7,0.82],[79.6,0.55],[81,0.32],[82.3,0.32],[83.7,0.45],[85.1,0.7],[86.5,0.82],[87.9,0.84],[88.8,0.8],[89.7,0.5],[90.6,0.2],[91.5,0.05],[92.5,0.05],[93.8,0.1],[95.2,0.3],[96.6,0.45],[98,0.6],[99.4,0.58],[100.7,0.65],[101.4,0.72],[102.6,0.5],[104,0.25],[105.3,0.12],[106.7,0.05],[109.5,0.03],[112.2,0.03],[113.6,0.05],[114.5,0.1],[115.9,0.25],[117.3,0.35],[118.7,0.4],[130,0.4]];

var helixCons = [[1,0.6],[2.8,0.61],[3.7,0.7],[5.1,0.8],[6.4,0.85],[7.4,0.89],[8.7,0.89],[10.1,0.85],[11.5,0.8],[12.4,0.76],[13.8,0.76],[14.7,0.7],[15.8,0.03],[17.5,0.03],[18.4,0.04],[19.3,0.1],[20.2,0.1],[21.2,0.14],[22.1,0.12],[23,0.15],[24.4,0.16],[25.8,0.17],[27.6,0.17],[29.4,0.17],[30.8,0.2],[32.2,0.22],[34,0.23],[35.9,0.22],[37.3,0.2],[38.6,0.23],[40,0.25],[41.4,0.22],[42.3,0.18],[43.7,0.2],[45.1,0.3],[46.5,0.33],[47.8,0.32],[48.8,0.25],[49.7,0.2],[51.1,0.18],[52.4,0.2],[54.3,0.19],[55.7,0.18],[57,0.18],[58,0.25],[58.9,0.33],[59.8,0.32],[60.3,0.4],[61.2,0.55],[62.1,0.58],[63.5,0.63],[64.9,0.66],[66.2,0.66],[67.6,0.6],[68.5,0.55],[69.7,0.45],[70.8,0.37],[71.8,0.38],[72.7,0.34],[74.1,0.35],[75,0.33],[76.4,0.25],[77.7,0.13],[79.1,0.14],[80.5,0.17],[81.9,0.2],[82.8,0.17],[84.6,0.17],[85.6,0.2],[86.5,0.27],[87.9,0.35],[88.8,0.38],[90.2,0.41],[91.5,0.42],[92.9,0.4],[94.8,0.35],[96.6,0.27],[98,0.25],[99.4,0.27],[100.3,0.3],[101.2,0.27],[101.7,0.25],[102.6,0.65],[104.4,0.7],[106.3,0.7],[107.2,0.69],[108.6,0.72],[110.4,0.72],[111.8,0.7],[113.2,0.65],[114.5,0.6],[115.5,0.6],[116.8,0.66],[118.2,0.65],[120.5,0.62],[122.4,0.6],[123.7,0.6],[125.1,0.55],[127,0.5],[128.8,0.44],[130,0.42]];
var strandCons = [[1,0.11],[2.8,0.06],[4.1,0.04],[5.5,0.05],[7.4,0.07],[10.1,0.05],[12.4,0.04],[13.8,0.06],[15.6,0.09],[17,0.15],[17.9,0.3],[19.3,0.55],[20.1,0.6],[21.2,0.5],[22.5,0.2],[23.5,0.07],[24.8,0.15],[26.2,0.55],[27.6,0.66],[29,0.65],[29.9,0.6],[31.3,0.4],[32.7,0.15],[33.6,0.25],[35,0.5],[36.3,0.6],[37.3,0.58],[38.6,0.5],[40,0.3],[41.4,0.15],[42.8,0.06],[44.2,0.2],[45.5,0.5],[46.5,0.56],[47.8,0.5],[48.8,0.38],[49.7,0.3],[50.6,0.38],[51.5,0.38],[52.4,0.28],[53.8,0.22],[54.7,0.15],[56.1,0.11],[57.5,0.1],[58.4,0.08],[59.8,0.04],[60.7,0.04],[62.1,0.12],[63.5,0.18],[64.9,0.22],[66.2,0.27],[67.2,0.27],[68.5,0.23],[69.9,0.15],[70.8,0.17],[72.2,0.25],[73.6,0.23],[75,0.2],[75.9,0.15],[77.3,0.06],[78.7,0.1],[80,0.3],[81.4,0.5],[82.3,0.51],[83.3,0.45],[84.6,0.25],[86,0.07],[87.4,0.08],[88.3,0.15],[89.7,0.4],[91.1,0.52],[92.5,0.52],[93.8,0.45],[95.2,0.3],[96.6,0.18],[98,0.12],[99.4,0.1],[100.7,0.08],[102.1,0.07],[103.5,0.12],[105.3,0.14],[106.7,0.14],[108.1,0.13],[110.4,0.15],[112.2,0.15],[113.6,0.1],[115,0.06],[116.8,0.07],[118.7,0.1],[120.5,0.13],[122.4,0.15],[123.7,0.16],[125.1,0.14],[126.5,0.14],[128.3,0.16],[130,0.18]];
var coilCons = [[1,0.29],[2.3,0.31],[3.2,0.3],[4.1,0.2],[5.5,0.1],[7.4,0.05],[9.2,0.05],[10.6,0.1],[12,0.18],[13.3,0.2],[14.3,0.25],[15.2,0.5],[16.1,0.86],[17.3,0.8],[18.4,0.5],[19.3,0.35],[20.2,0.3],[21.2,0.45],[23,0.7],[23.9,0.78],[24.8,0.7],[25.8,0.45],[27.1,0.2],[28.5,0.17],[29.9,0.18],[30.8,0.3],[32.2,0.6],[32.9,0.62],[33.6,0.45],[34.5,0.3],[35.9,0.2],[37.3,0.18],[38.6,0.25],[40.5,0.5],[41.9,0.7],[42.8,0.73],[44.2,0.5],[45.5,0.2],[46.9,0.12],[48.3,0.15],[49.2,0.35],[50.1,0.5],[51.5,0.43],[52.4,0.45],[53.8,0.58],[55.2,0.65],[56.1,0.68],[57,0.6],[58,0.57],[58.9,0.6],[59.8,0.55],[60.7,0.42],[62.1,0.32],[63.5,0.2],[65.3,0.12],[66.7,0.08],[68.1,0.1],[69.5,0.2],[70.8,0.48],[71.8,0.45],[73.1,0.4],[74.5,0.42],[75.9,0.47],[77.1,0.6],[78,0.8],[79.1,0.75],[80,0.55],[81.4,0.28],[82.8,0.33],[84.2,0.45],[85.6,0.62],[86.9,0.6],[88.3,0.5],[89.2,0.35],[90.6,0.15],[91.5,0.05],[92.9,0.07],[94.8,0.2],[96.1,0.4],[97.5,0.55],[98.9,0.58],[100.3,0.6],[101.4,0.66],[102.1,0.45],[103.5,0.2],[105.3,0.14],[107.2,0.14],[108.6,0.16],[110.4,0.13],[112.2,0.13],[113.2,0.15],[114.5,0.3],[115.5,0.32],[116.8,0.25],[118.7,0.27],[120.5,0.25],[121.9,0.24],[123.3,0.26],[124.6,0.32],[127,0.37],[130,0.38]];

var panelNames = ['Query', 'sequence 1', 'sequence 2', 'sequence 3', 'sequence 4', 'sequence 5', 'sequence 6', 'sequence 7', 'consensus'];
var panelWeights = ['0.0963', '0.0963', '0.146', '0.129', '0.140', '0.109', '0.133', '0.150', null];
var q3Labels = ['Q3=68.5%', null, null, null, null, null, null, null, 'Q3=79.2%'];

var panels = [
  [helixQuery, strandQuery, coilQuery, ssQuery],
  [helixQuery, strandQuery, coilQuery, ssQuery],   // sequence 1 is the query itself
  [helixSeq2, strandSeq2, coilSeq2, ssSeq2],
  [helixSeq3, strandSeq3, coilSeq3, ssSeq3],
  [helixSeq4, strandSeq4, coilSeq4, ssSeq4],
  [helixSeq5, strandSeq5, coilSeq5, ssSeq5],
  [helixSeq6, strandSeq6, coilSeq6, ssSeq6],
  [helixSeq7, strandSeq7, coilSeq7, ssSeq7],
  [helixCons, strandCons, coilCons, ssCons]
];

var MAGENTA = '#ff00ff', GREEN = '#00ff00', GRAY = '#bebebe', BLUE = '#0000ff';
var ssColors = [GRAY, MAGENTA, GREEN];
var SANS = '"Liberation Sans", Arial, Helvetica, sans-serif';
var SERIF = '"Liberation Serif", "Times New Roman", serif';

function ssData(ss) {
  var d = [[1, 130, 0]];
  ss.forEach(function (s) { d.push([s[1], s[2], s[0] === 'H' ? 1 : 2]); });
  return d;
}

function ssRender(yVal, thick) {
  return function (params, api) {
    var a = api.coord([api.value(0) - 0.5, yVal]);
    var b = api.coord([api.value(1) + 0.5, yVal]);
    return {
      type: 'rect',
      shape: {x: a[0], y: a[1] - thick / 2, width: b[0] - a[0], height: thick},
      style: {fill: ssColors[api.value(2)]}
    };
  };
}

function ellipseRender(yVal, ry, withLabel) {
  return function (params, api) {
    var a = api.coord([api.value(0), yVal]);
    var b = api.coord([api.value(1), yVal]);
    var ell = {
      type: 'ellipse',
      shape: {cx: (a[0] + b[0]) / 2, cy: a[1], rx: (b[0] - a[0]) / 2, ry: ry},
      style: {fill: null, stroke: BLUE, lineWidth: 1.3}
    };
    if (!withLabel) return ell;
    var l = api.coord([api.value(2), yVal]);
    return {
      type: 'group',
      children: [ell, {
        type: 'text',
        x: l[0], y: a[1] + 25,
        style: {text: regionNames[params.dataIndex], fill: BLUE, font: '17px ' + SERIF,
                align: 'center', verticalAlign: 'middle', textAlign: 'center', textVerticalAlign: 'middle'}
      }]
    };
  };
}

var PANEL_TOP = 16.9, PANEL_STEP = 145.2, PANEL_H = 123.6;
var XMIN = -4.16, XMAX = 132.7;
var frame = {show: true, onZero: false, lineStyle: {color: '#000', width: 1}};

var grids = [], xAxes = [], topAxes = [], yAxes = [], series = [], texts = [];
var nAxes = panels.length + 1;

panels.forEach(function (p, i) {
  var top = PANEL_TOP + PANEL_STEP * i;
  grids.push({left: 37, right: 0, top: top, height: PANEL_H, show: false, outerBoundsMode: 'none'});
  xAxes.push({
    gridIndex: i, type: 'value', min: XMIN, max: XMAX, position: 'bottom',
    splitLine: {show: false}, axisLine: frame,
    axisTick: {show: true, length: 4, customValues: xTicks, lineStyle: {color: '#000'}},
    axisLabel: {customValues: xTicks, color: '#000', fontSize: 16, fontFamily: SANS, margin: 5}
  });
  // top edge of the box
  topAxes.push({
    gridIndex: i, type: 'value', min: XMIN, max: XMAX, position: 'top',
    splitLine: {show: false}, axisLine: frame, axisTick: {show: false}, axisLabel: {show: false}
  });
  yAxes.push({
    gridIndex: i, type: 'value', min: -0.04, max: 1.04, position: 'left',
    splitLine: {show: false}, axisLine: frame,
    axisTick: {show: true, length: 5, customValues: yTicks, lineStyle: {color: '#000'}},
    axisLabel: {customValues: yLabels, rotate: 90, color: '#000', fontSize: 16, fontFamily: SANS, margin: 6,
                formatter: function (v) { return Number(v).toFixed(1); }}
  });
  var lines = [[p[2], GRAY], [p[1], GREEN], [p[0], MAGENTA]];
  lines.forEach(function (ln) {
    series.push({
      type: 'line', xAxisIndex: i, yAxisIndex: i, data: ln[0],
      symbol: 'none', silent: true, animation: false,
      lineStyle: {color: ln[1], width: 1.2}
    });
  });
  series.push({
    type: 'custom', xAxisIndex: i, yAxisIndex: i, data: ssData(p[3]),
    renderItem: ssRender(1.015, 5), silent: true, animation: false, clip: false,
    encode: {x: [0, 1], y: -1}
  });
  if (q3Labels[i]) {
    series.push({
      type: 'custom', xAxisIndex: i, yAxisIndex: i, data: regions,
      renderItem: ellipseRender(1.015, 10.5, false), silent: true, animation: false, clip: false,
      encode: {x: [0, 1], y: -1}
    });
  }
  var zero = top + PANEL_H * 1.04 / 1.08;
  texts.push({type: 'text', x: 59, y: zero - 81,
    style: {text: panelNames[i], font: '19.5px ' + SANS, fill: '#000', verticalAlign: 'middle', textVerticalAlign: 'middle'}});
  if (panelWeights[i]) {
    texts.push({type: 'text', x: 59, y: zero - 58.5,
      style: {text: 'weight=' + panelWeights[i], font: '19.5px ' + SANS, fill: '#000', verticalAlign: 'middle', textVerticalAlign: 'middle'}});
  }
  if (q3Labels[i]) {
    texts.push({type: 'text', x: i === 0 ? 641 : 638, y: zero - (i === 0 ? 50 : 54.5),
      style: {text: q3Labels[i], font: 'bold 19.5px ' + SERIF, fill: '#000',
              align: 'right', textAlign: 'right', verticalAlign: 'middle', textVerticalAlign: 'middle'}});
  }
});

// true secondary structure strip
var gi = panels.length;
grids.push({left: 37, right: 0, top: 1340, height: 21, show: false, outerBoundsMode: 'none'});
xAxes.push({gridIndex: gi, type: 'value', min: XMIN, max: XMAX, show: false});
yAxes.push({gridIndex: gi, type: 'value', min: 0, max: 1, show: false});
series.push({
  type: 'custom', xAxisIndex: gi, yAxisIndex: gi, data: ssData(ssTrue),
  renderItem: ssRender(0.5, 6.5), silent: true, animation: false, clip: false,
  encode: {x: [0, 1], y: -1}
});
series.push({
  type: 'custom', xAxisIndex: gi, yAxisIndex: gi,
  data: regions.map(function (r, k) { return [r[0], r[1], regionLabelX[k]]; }),
  renderItem: ellipseRender(0.5, 10.3, true), silent: true, animation: false, clip: false,
  encode: {x: [0, 1], y: -1}
});
texts.push({type: 'text', x: 60, y: 1374,
  style: {text: 'true secondary structure', font: '19.5px ' + SANS, fill: '#000', verticalAlign: 'middle', textVerticalAlign: 'middle'}});

var chart = echarts.init(document.getElementById('chart'), null, {renderer: 'canvas'});
chart.setOption({
  backgroundColor: '#fff',
  animation: false,
  grid: grids,
  xAxis: xAxes.concat(topAxes),
  yAxis: yAxes,
  series: series,
  graphic: {elements: texts}
});
</script>
</body>
</html>
